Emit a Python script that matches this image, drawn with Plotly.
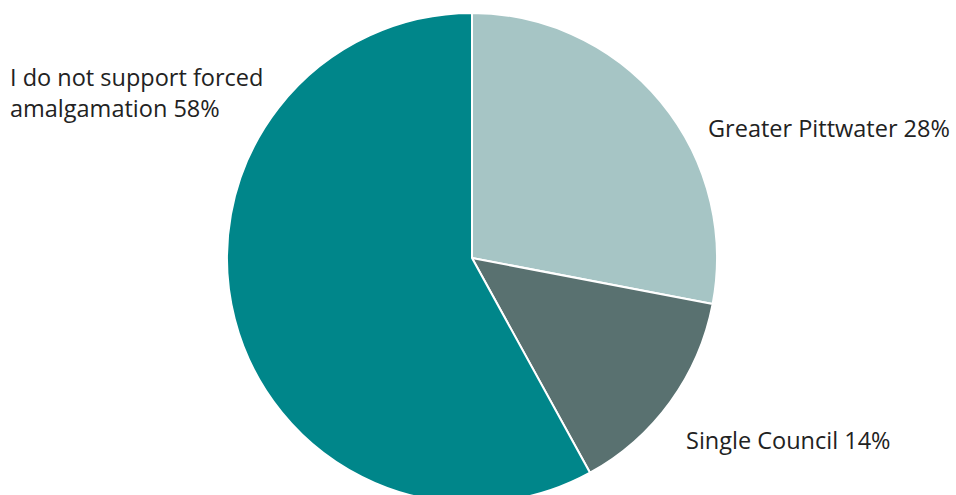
import plotly.graph_objects as go

# Survey responses on council amalgamation options
labels = ["Greater Pittwater", "Single Council", "I do not support forced amalgamation"]
values = [28, 14, 58]
colors = ["#a6c5c5", "#597170", "#00868a"]

W, H = 956, 503
TOP = 13
PLOT_H = H - TOP


def py(ypix):
    """Convert a pixel row (from the top of the page) into paper y."""
    return (H - ypix) / PLOT_H


fig = go.Figure(
    go.Pie(
        labels=labels,
        values=values,
        marker=dict(colors=colors, line=dict(color="white", width=2)),
        sort=False,
        direction="clockwise",
        rotation=0,
        textinfo="none",
        hoverinfo="label+percent",
        showlegend=False,
        domain=dict(x=[227 / W, 717 / W], y=[0, 1]),
    )
)

font = dict(family="Open Sans, Lato, sans-serif", size=23.5, color="#222222")
annos = [
    dict(text="I do not support forced<br>amalgamation 58%", x=8 / W, y=py(92), align="left"),
    dict(text="Greater Pittwater 28%", x=706 / W, y=py(128), align="left"),
    dict(text="Single Council 14%", x=684 / W, y=py(440), align="left"),
]
for a in annos:
    fig.add_annotation(
        xref="paper", yref="paper", xanchor="left", yanchor="middle",
        showarrow=False, font=font, **a
    )

fig.update_layout(
    width=W, height=H,
    margin=dict(l=0, r=0, t=TOP, b=0),
    paper_bgcolor="white", plot_bgcolor="white",
)

fig.write_html(
    "out.html",
    post_script="document.documentElement.style.overflow='hidden';document.body.style.overflow='hidden';",
)
